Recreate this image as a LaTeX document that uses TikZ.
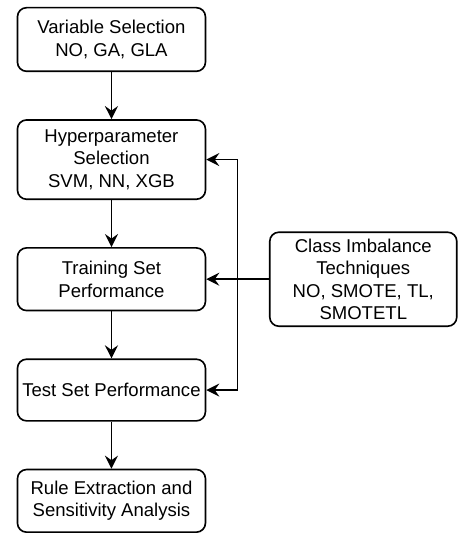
\documentclass[tikz,border=0pt]{standalone}
\usepackage{fontspec}
\setmainfont{Liberation Sans}
\usetikzlibrary{positioning, calc, arrows.meta}

\begin{document}
\begin{tikzpicture}[
    node distance=36pt,
    >={Stealth[length=10pt, width=10pt, inset=3.5pt]},
    link/.style={line width=1.25pt},
    box/.style={draw, link, rounded corners=7pt, align=center, minimum width=144pt, inner sep=2pt,
                font=\fontsize{14.2pt}{17.25pt}\selectfont},
    every edge/.append style={link}
]

   % Boxes
   \node[box, minimum height=48.75pt] (var) {Variable Selection\\NO, GA, GLA};
   \node[box, minimum height=60.75pt] (hyper) [below=of var] {Hyperparameter\\Selection\\SVM, NN, XGB};
   \node[box, minimum height=48pt] (train) [below=of hyper] {Training Set\\Performance};
   \node[box, minimum height=47.25pt] (test) [below=of train] {Test Set Performance};
   \node[box, minimum height=48pt] (rule) [below=of test] {Rule Extraction and\\Sensitivity Analysis};
   \node[box, minimum width=143.25pt, minimum height=72pt] (imb) [right=48pt of train] {Class Imbalance\\Techniques\\NO, SMOTE, TL,\\SMOTETL};

   % Arrows
   \path[->]
   (var) edge (hyper)
   (hyper) edge (train)
   (train) edge (test)
   (test) edge (rule)
   (imb) edge (train);

   % Feedback line
   \coordinate[right=24pt of train] (bus);
   \draw[link, <->] (hyper.east) -- (bus |- hyper.east) -- (bus |- test.east) -- (test.east);

   \path[use as bounding box] ($(var.north west)+(-12.75pt,5.25pt)$) rectangle ($(imb.east |- rule.north)+(3.75pt,-45pt)$);

\end{tikzpicture}
\end{document}
